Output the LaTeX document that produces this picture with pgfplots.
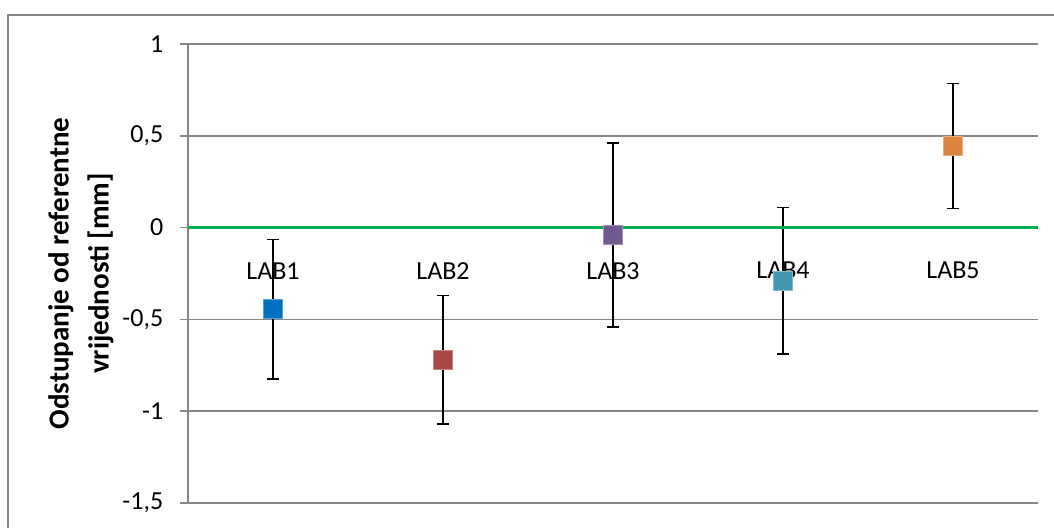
\documentclass[border=0pt]{standalone}
\usepackage{fontspec}
\setmainfont{Carlito}
\usepackage{pgfplots}
\pgfplotsset{compat=1.18}
\definecolor{gridgray}{HTML}{868686}
\definecolor{zero}{HTML}{00B050}
\definecolor{c1}{HTML}{0070C0}
\definecolor{c2}{HTML}{AA4643}
\definecolor{c3}{HTML}{71588F}
\definecolor{c4}{HTML}{4198AF}
\definecolor{c5}{HTML}{DB843D}
\pgfplotsset{
  labpt/.style={only marks, mark=square*, mark size=9.5bp,
    mark options={draw=#1!65!white, fill=#1, line width=1bp},
    error bars/.cd, y dir=both, y explicit,
    error bar style={black, line width=1.6bp},
    error mark options={rotate=90, black, mark size=6bp, line width=1.6bp}},
}
\begin{document}
\fontsize{25.5bp}{30bp}\selectfont
\begin{tikzpicture}
\useasboundingbox (-188bp,-25bp) rectangle (866bp,503bp);
\draw[gridgray, line width=2bp] (-180bp,-26bp) -- (-180bp,488bp) -- (867bp,488bp);
\begin{axis}[
  at={(0,0)}, anchor=south west, scale only axis,
  width=850bp, height=459bp,
  xmin=0.5, xmax=5.5, ymin=-1.5, ymax=1,
  axis x line*=middle, axis y line*=left,
  x axis line style={draw=none},
  y axis line style={gridgray, line width=1.6bp},
  xtick={1,2,3,4,5}, xticklabels={LAB1,LAB2,LAB3,LAB4,LAB5},
  xtick style={draw=none},
  xticklabel style={anchor=north, yshift=-18bp},
  ytick={-1.5,-1,-0.5,0,0.5,1},
  yticklabels={{-1,5},{-1},{-0,5},{0},{0,5},{1}},
  tick align=outside, major tick length=8bp,
  ytick style={gridgray, line width=1.6bp},
  yticklabel style={xshift=-8bp},
  ymajorgrids, grid style={gridgray, line width=1.6bp},
  tick label style={font=\fontsize{26bp}{30bp}\selectfont},
  ylabel={Odstupanje od referentne\\vrijednosti [mm]},
  every axis y label/.style={at={(rel axis cs:0,0.5)}, xshift=-107bp, rotate=90,
    anchor=center, align=center, font=\fontsize{29bp}{40bp}\selectfont\bfseries},
  clip=false,
]
\addplot+[labpt=c1] coordinates {(1,-0.445) +- (0,0.38)};
\addplot+[labpt=c2] coordinates {(2,-0.72) +- (0,0.35)};
\addplot+[labpt=c3] coordinates {(3,-0.04) +- (0,0.50)};
\addplot+[labpt=c4] coordinates {(4,-0.29) +- (0,0.40)};
\addplot+[labpt=c5] coordinates {(5,0.445) +- (0,0.34)};
\addplot[zero, line width=3.5bp] coordinates {(0.5,0) (5.5,0)};
\end{axis}
\end{tikzpicture}
\end{document}
